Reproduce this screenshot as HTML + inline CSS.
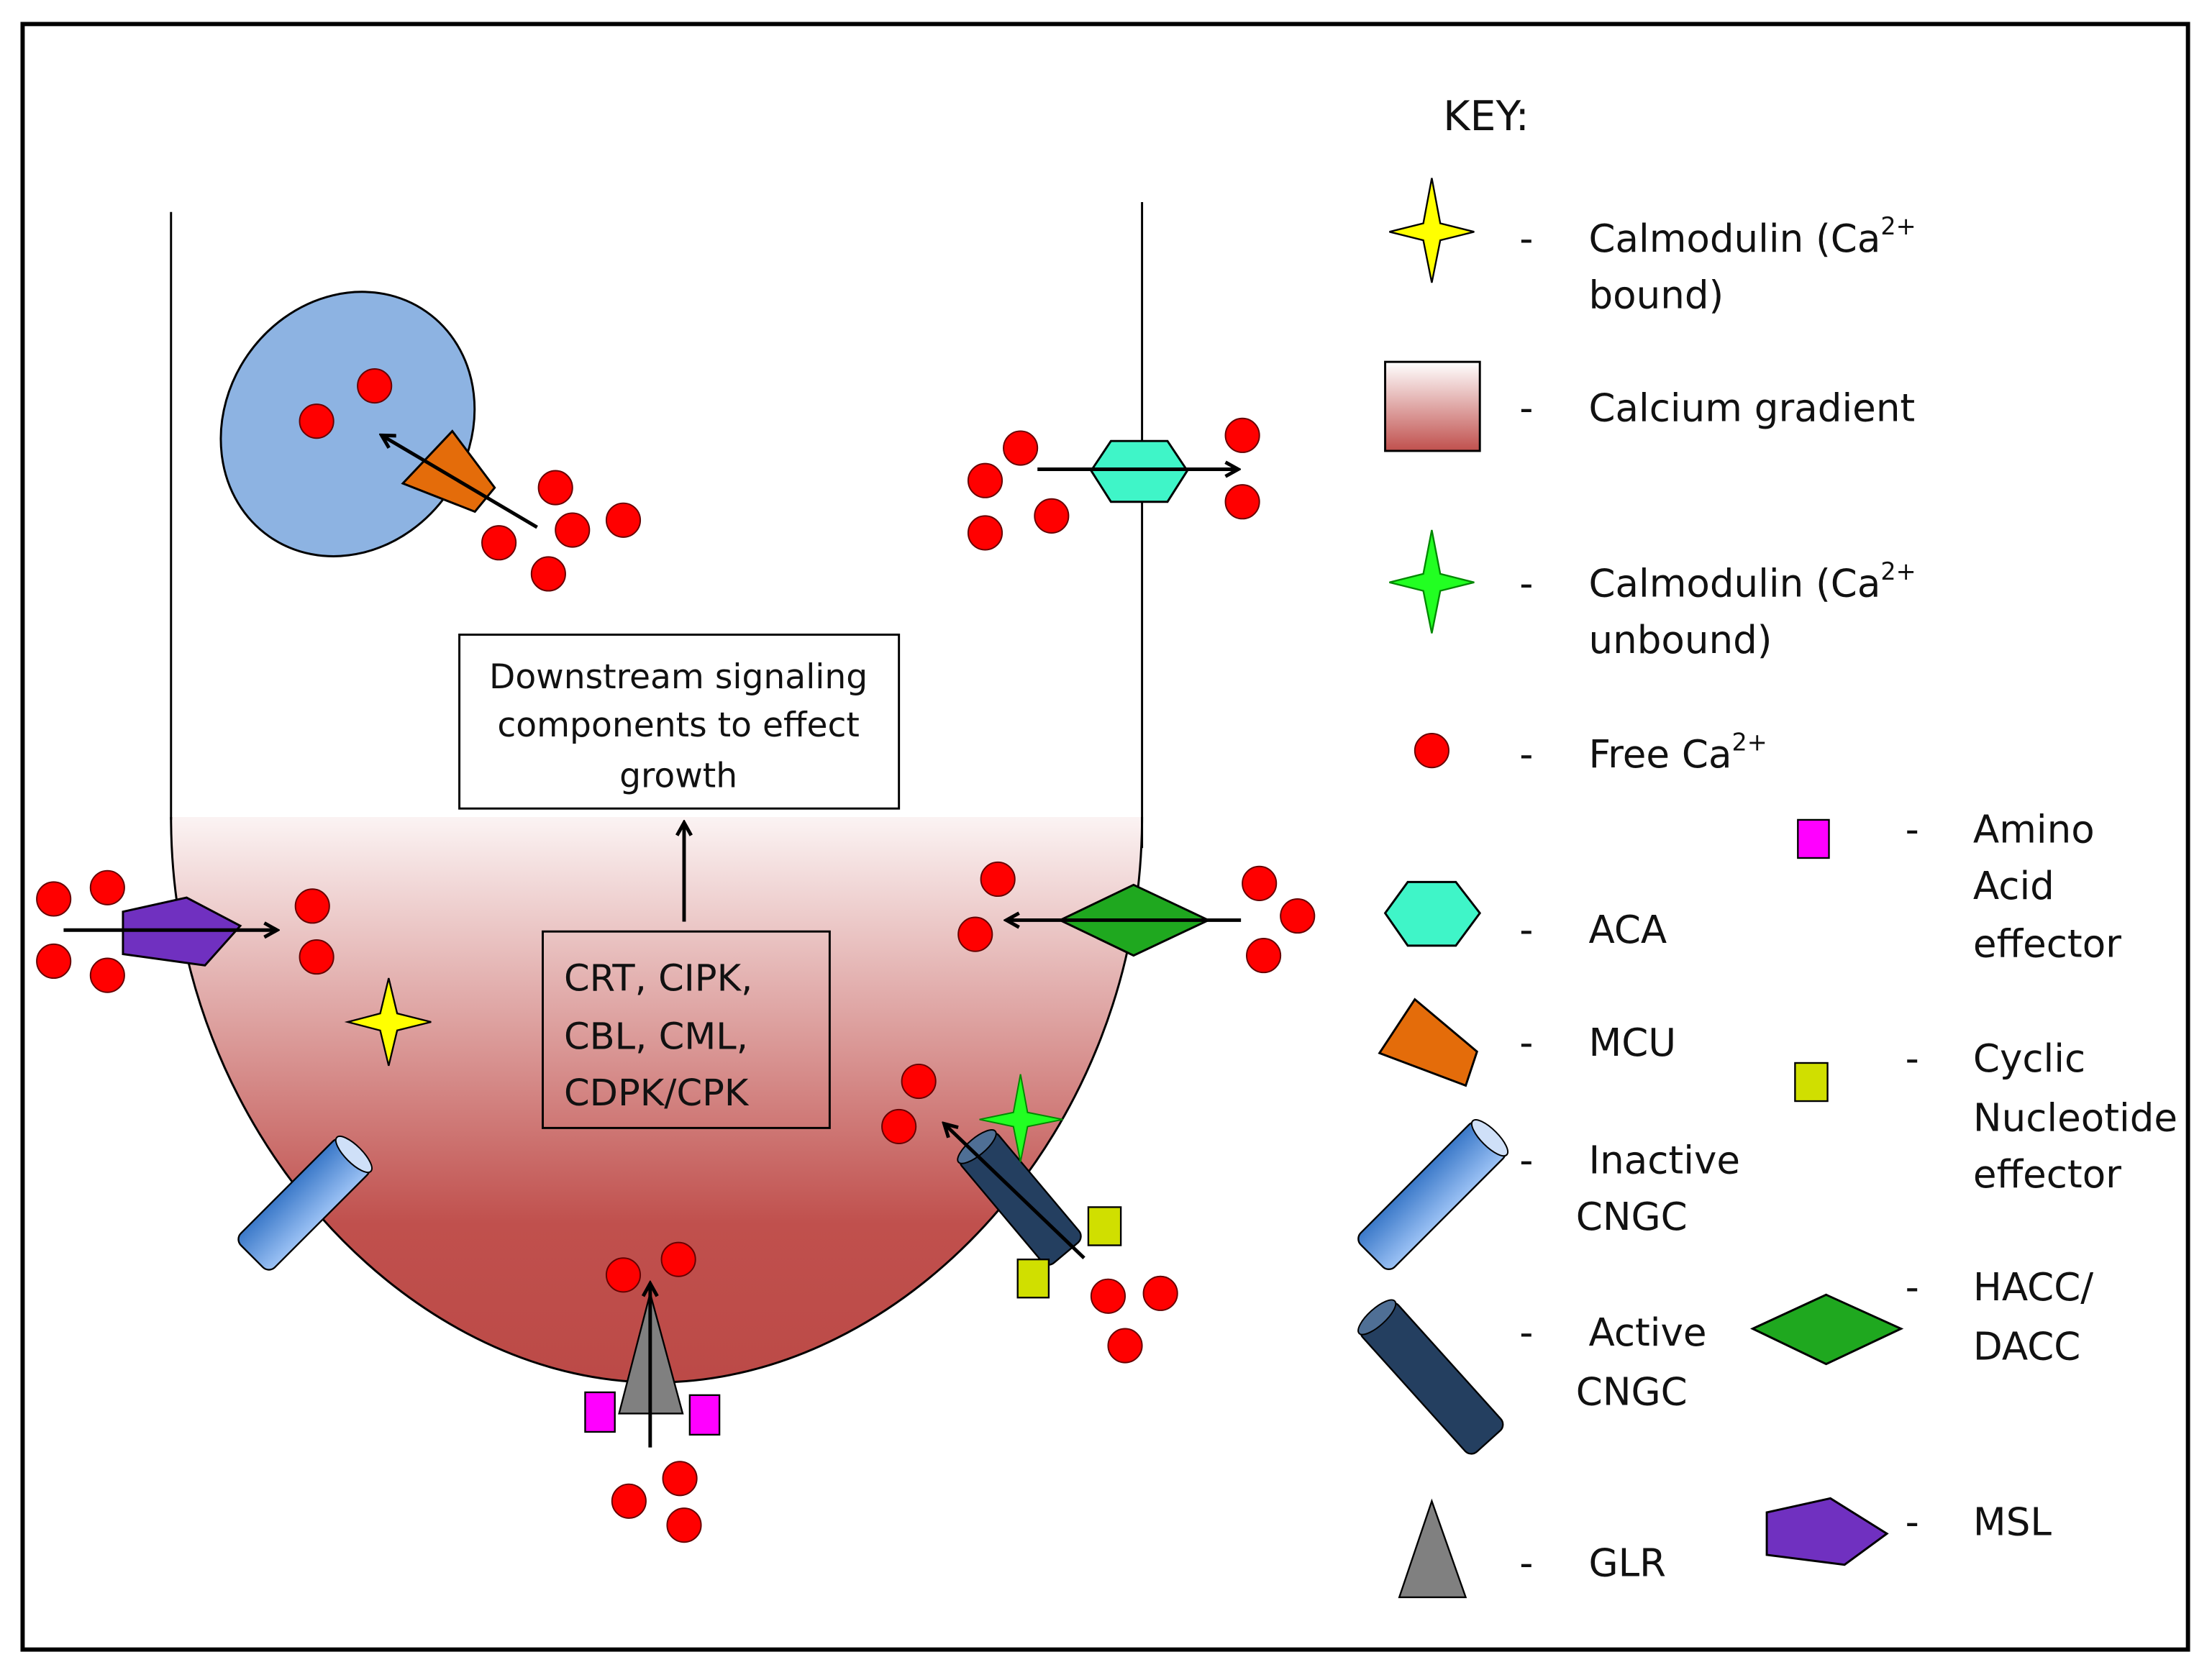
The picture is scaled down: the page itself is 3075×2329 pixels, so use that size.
<!DOCTYPE html>
<html><head><meta charset="utf-8"><style>
html,body{margin:0;padding:0;background:#fff}
svg{display:block}
text{font-family:"DejaVu Sans","Liberation Sans",sans-serif;fill:#111}
</style></head><body>
<svg width="3075" height="2329" viewBox="0 0 1565 1185" preserveAspectRatio="none" xmlns="http://www.w3.org/2000/svg">
<defs>
<linearGradient id="g" x1="0" y1="0" x2="0" y2="1">
<stop offset="0" stop-color="#fbf3f3"/><stop offset="0.72" stop-color="#c0504d"/><stop offset="1" stop-color="#bc4a47"/></linearGradient>
<linearGradient id="kg" x1="0" y1="0" x2="0" y2="1">
<stop offset="0" stop-color="#fff"/><stop offset="1" stop-color="#c0504d"/></linearGradient>
<linearGradient id="cy" x1="0" y1="0" x2="1" y2="0">
<stop offset="0" stop-color="#3a78c8"/><stop offset="1" stop-color="#9cc2f5"/></linearGradient>
<marker id="ah" markerWidth="12" markerHeight="12" refX="10" refY="6" orient="auto" markerUnits="userSpaceOnUse">
<path d="M1,1 L10,6 L1,11" fill="none" stroke="#000" stroke-width="2.5"/></marker>
</defs>
<rect x="16" y="17" width="1532" height="1150" fill="#fff" stroke="#000" stroke-width="3"/>
<path d="M121,578 L808,578 C808,800 640,978 464,978 C290,978 121,800 121,578 Z" fill="url(#g)"/>
<path d="M808,578 C808,800 640,978 464,978 C290,978 121,800 121,578" fill="none" stroke="#000" stroke-width="1.5"/>
<line x1="121" y1="150" x2="121" y2="580" stroke="#000" stroke-width="1.5"/>
<line x1="808" y1="143" x2="808" y2="600" stroke="#000" stroke-width="1.5"/>
<ellipse cx="246" cy="300" rx="86" ry="97" transform="rotate(35 246 300)" fill="#8db3e2" stroke="#000" stroke-width="1.5"/>
<polygon points="285,342 320,305 350,345 336,362" fill="#e46c0a" stroke="#000" stroke-width="1.5"/>
<line x1="380" y1="373" x2="270" y2="308" stroke="#000" stroke-width="2.5" marker-end="url(#ah)"/>
<g fill="#f00" stroke="#600" stroke-width="1">
<circle cx="224" cy="298" r="12"/><circle cx="265" cy="273" r="12"/>
<circle cx="393" cy="345" r="12"/><circle cx="405" cy="375" r="12"/><circle cx="441" cy="368" r="12"/><circle cx="353" cy="384" r="12"/><circle cx="388" cy="406" r="12"/>
<circle cx="722" cy="317" r="12"/><circle cx="697" cy="340" r="12"/><circle cx="697" cy="377" r="12"/><circle cx="744" cy="365" r="12"/><circle cx="879" cy="308" r="12"/><circle cx="879" cy="355" r="12"/>
<circle cx="38" cy="636" r="12"/><circle cx="76" cy="628" r="12"/><circle cx="38" cy="680" r="12"/><circle cx="76" cy="690" r="12"/><circle cx="221" cy="641" r="12"/><circle cx="224" cy="677" r="12"/>
<circle cx="706" cy="622" r="12"/><circle cx="690" cy="661" r="12"/><circle cx="891" cy="625" r="12"/><circle cx="918" cy="648" r="12"/><circle cx="894" cy="676" r="12"/>
<circle cx="650" cy="765" r="12"/><circle cx="636" cy="797" r="12"/><circle cx="784" cy="917" r="12"/><circle cx="821" cy="915" r="12"/><circle cx="796" cy="952" r="12"/>
<circle cx="441" cy="902" r="12"/><circle cx="480" cy="891" r="12"/><circle cx="481" cy="1046" r="12"/><circle cx="445" cy="1062" r="12"/><circle cx="484" cy="1079" r="12"/>
</g>
<polygon points="772,333 786,312 826,312 840,333 826,355 786,355" fill="#3ff5c8" stroke="#000" stroke-width="1.5"/>
<line x1="734" y1="332" x2="876" y2="332" stroke="#000" stroke-width="2.5" marker-end="url(#ah)"/>
<polygon points="87,645 132,635 170,655 145,683 87,675" fill="#7030c0" stroke="#000" stroke-width="1.5"/>
<line x1="45" y1="658" x2="196" y2="658" stroke="#000" stroke-width="2.5" marker-end="url(#ah)"/>
<polygon points="750,651 802,626 855,651 802,676" fill="#1fa81f" stroke="#000" stroke-width="1.5"/>
<line x1="878" y1="651" x2="712" y2="651" stroke="#000" stroke-width="2.5" marker-end="url(#ah)"/>
<rect x="325" y="449" width="311" height="123" fill="#fff" stroke="#000" stroke-width="1.5"/>
<text x="480" y="487" font-size="24" text-anchor="middle">Downstream signaling</text>
<text x="480" y="521" font-size="24" text-anchor="middle">components to effect</text>
<text x="480" y="557" font-size="24" text-anchor="middle">growth</text>
<line x1="484" y1="652" x2="484" y2="582" stroke="#000" stroke-width="2.5" marker-end="url(#ah)"/>
<rect x="384" y="659" width="203" height="139" fill="none" stroke="#000" stroke-width="1.5"/>
<text x="399" y="701" font-size="26">CRT, CIPK,</text>
<text x="399" y="742" font-size="26">CBL, CML,</text>
<text x="399" y="782" font-size="26">CDPK/CPK</text>
<path d="M275,692 L281,717 L305,723 L281,729 L275,754 L269,729 L246,723 L269,717 Z" fill="#ffff00" stroke="#000" stroke-width="1.2"/>
<g transform="rotate(45 215 852)"><rect x="198" y="800" width="34" height="104" rx="6" fill="url(#cy)" stroke="#000" stroke-width="1.2"/><ellipse cx="215" cy="802" rx="17" ry="6" fill="#cfe0f8" stroke="#000" stroke-width="1"/></g>
<g transform="rotate(-40 722 848)"><rect x="705" y="798" width="34" height="100" rx="6" fill="#243f60" stroke="#000" stroke-width="1.2"/><ellipse cx="722" cy="800" rx="17" ry="6" fill="#4f6f95" stroke="#000" stroke-width="1"/></g>
<rect x="770" y="854" width="23" height="27" fill="#d0df00" stroke="#000" stroke-width="1.2"/>
<rect x="720" y="891" width="22" height="27" fill="#d0df00" stroke="#000" stroke-width="1.2"/>
<line x1="767" y1="890" x2="668" y2="795" stroke="#000" stroke-width="2.5" marker-end="url(#ah)"/>
<path d="M722,760 L727,787 L752,792 L727,797 L722,822 L717,797 L693,792 L717,787 Z" fill="#22ff22" stroke="#080" stroke-width="1"/>
<rect x="414" y="985" width="21" height="28" fill="#ff00ff" stroke="#000" stroke-width="1.2"/>
<rect x="488" y="987" width="21" height="28" fill="#ff00ff" stroke="#000" stroke-width="1.2"/>
<polygon points="460,915 438,1000 483,1000" fill="#808080" stroke="#000" stroke-width="1.2"/>
<line x1="460" y1="1024" x2="460" y2="908" stroke="#000" stroke-width="2.5" marker-end="url(#ah)"/>
<text x="1021" y="92" font-size="29">KEY:</text>
<path d="M1013,126 L1019,158 L1043,164 L1019,170 L1013,200 L1007,170 L983,164 L1007,158 Z" fill="#ffff00" stroke="#000" stroke-width="1.2"/>
<rect x="980" y="256" width="67" height="63" fill="url(#kg)" stroke="#000" stroke-width="1.5"/>
<path d="M1013,375 L1019,406 L1043,412 L1019,418 L1013,448 L1007,418 L983,412 L1007,406 Z" fill="#22ff22" stroke="#080" stroke-width="1.2"/>
<circle cx="1013" cy="531" r="12" fill="#f00" stroke="#600"/>
<polygon points="980,646 996,624 1030,624 1047,646 1030,669 996,669" fill="#3ff5c8" stroke="#000" stroke-width="1.5"/>
<polygon points="976,745 1001,707 1045,744 1037,768" fill="#e46c0a" stroke="#000" stroke-width="1.5"/>
<g transform="rotate(45 1013 846)"><rect x="996" y="786" width="34" height="120" rx="6" fill="url(#cy)" stroke="#000" stroke-width="1.2"/><ellipse cx="1013" cy="788" rx="17" ry="6" fill="#cfe0f8" stroke="#000"/></g>
<g transform="rotate(-42 1013 975)"><rect x="996" y="915" width="34" height="120" rx="6" fill="#243f60" stroke="#000" stroke-width="1.2"/><ellipse cx="1013" cy="917" rx="17" ry="6" fill="#4f6f95" stroke="#000"/></g>
<polygon points="1013,1062 990,1130 1037,1130" fill="#808080" stroke="#000" stroke-width="1.2"/>
<rect x="1272" y="580" width="22" height="27" fill="#ff00ff" stroke="#000" stroke-width="1.2"/>
<rect x="1270" y="752" width="23" height="27" fill="#d0df00" stroke="#000" stroke-width="1.2"/>
<polygon points="1240,940 1292,916 1345,940 1292,965" fill="#1fa81f" stroke="#000" stroke-width="1.5"/>
<polygon points="1250,1070 1295,1060 1335,1085 1305,1107 1250,1100" fill="#7030c0" stroke="#000" stroke-width="1.5"/>
<g font-size="27">
<text x="1075" y="178">-</text><text x="1075" y="298">-</text><text x="1075" y="422">-</text><text x="1075" y="543">-</text><text x="1075" y="667">-</text><text x="1075" y="747">-</text><text x="1075" y="830">-</text><text x="1075" y="952">-</text><text x="1075" y="1115">-</text>
<text x="1348" y="596">-</text><text x="1348" y="758">-</text><text x="1348" y="920">-</text><text x="1348" y="1086">-</text>
<text x="1124" y="178">Calmodulin (Ca<tspan font-size="17" dy="-12">2+</tspan></text>
<text x="1124" y="218">bound)</text>
<text x="1124" y="298">Calcium gradient</text>
<text x="1124" y="422">Calmodulin (Ca<tspan font-size="17" dy="-12">2+</tspan></text>
<text x="1124" y="462">unbound)</text>
<text x="1124" y="543">Free Ca<tspan font-size="17" dy="-12">2+</tspan></text>
<text x="1124" y="667">ACA</text>
<text x="1124" y="747">MCU</text>
<text x="1124" y="830">Inactive</text>
<text x="1115" y="870">CNGC</text>
<text x="1124" y="952">Active</text>
<text x="1115" y="994">CNGC</text>
<text x="1124" y="1115">GLR</text>
<text x="1396" y="596">Amino</text><text x="1396" y="636">Acid</text><text x="1396" y="677">effector</text>
<text x="1396" y="758">Cyclic</text><text x="1396" y="800">Nucleotide</text><text x="1396" y="840">effector</text>
<text x="1396" y="920">HACC/</text><text x="1396" y="962">DACC</text>
<text x="1396" y="1086">MSL</text>
</g>
</svg>
</body></html>
